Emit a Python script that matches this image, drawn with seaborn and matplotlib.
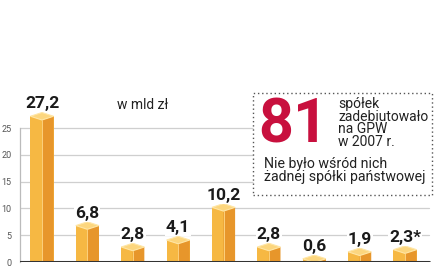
import matplotlib
matplotlib.use("Agg")
import matplotlib.pyplot as plt
import seaborn as sns
import pandas as pd
import numpy as np
from matplotlib.patches import Polygon, FancyBboxPatch

categories = ["1", "2", "3", "4", "5", "6", "7", "8", "9"]
values = [27.2, 6.8, 2.8, 4.1, 10.2, 2.8, 0.6, 1.9, 2.3]
labels = ["27,2", "6,8", "2,8", "4,1", "10,2", "2,8", "0,6", "1,9", "2,3*"]
yticks = [0, 5, 10, 15, 20, 25]

sns.set_theme(style="white")
plt.rcParams['font.family'] = ['Roboto', 'DejaVu Sans']

W, H = 439, 268
fig = plt.figure(figsize=(W / 100, H / 100), dpi=100)
ax = fig.add_axes([20 / W, 6 / H, 415 / W, 172 / H])

df = pd.DataFrame({"cat": categories, "val": values})
LEFT = "#F6B843"
RIGHT = "#E7962B"
TOP = "#FCD67E"
sns.barplot(data=df, x="cat", y="val", color=LEFT, saturation=1, width=0.51,
            ax=ax, zorder=3, linewidth=0)

ax.set_ylim(0, 32.1)
ax.set_xlim(-0.485, 8.66)
d = 0.7
for p, v, lab in zip(ax.patches, values, labels):
    x0 = p.get_x()
    w = p.get_width()
    xc = x0 + w / 2
    x1 = x0 + w
    ax.add_patch(Polygon([[xc, 0], [x1, 0], [x1, v], [xc, v - d]], closed=True,
                         facecolor=RIGHT, edgecolor="none", zorder=4))
    ax.add_patch(Polygon([[x0, v], [xc, v - d], [x1, v], [xc, v + d]], closed=True,
                         facecolor=TOP, edgecolor="#FFE6A6", linewidth=0.8, zorder=5))
    ax.plot([xc, xc], [0, v - d], color="#FFD98A", lw=0.6, zorder=5)
    ax.text(xc, v + 2.3, lab, ha="center", va="center", fontsize=12.5,
            fontweight="bold", color="#1a1a1a", zorder=6,
            bbox=dict(facecolor="white", edgecolor="none", pad=0.8))

ax.set_yticks(yticks)
ax.set_yticklabels([str(t) for t in yticks], fontsize=6.5, color="#555555")
ax.tick_params(axis="y", length=0, pad=6)
ax.set_xticks([])
ax.set_xlabel("")
ax.set_ylabel("")
for t in yticks[1:]:
    ax.axhline(t, color="#cfcfcf", lw=0.9, zorder=1, xmax=0.985)
for s in ["top", "right"]:
    ax.spines[s].set_visible(False)
ax.spines["left"].set_color("#bbbbbb")
ax.spines["left"].set_linewidth(0.9)
ax.spines["left"].set_bounds(0, 25)
ax.spines["bottom"].set_visible(False)
ax.axhline(0, color="#333333", lw=2.2, zorder=7, xmax=0.985)

fig.text(143 / W, 1 - 105 / H, "w mld zł", fontsize=10, color="#222222",
         ha="center", va="center")

# info box
box = FancyBboxPatch((253 / W, 1 - 195 / H), (432 - 253) / W, (195 - 93) / H,
                     boxstyle="square,pad=0", transform=fig.transFigure,
                     facecolor="white", edgecolor="#555555", linewidth=1.0,
                     linestyle=(0, (1, 2)), zorder=10)
fig.patches.append(box)
fig.text(293 / W, 1 - 125 / H, "81", fontsize=44, color="#C8103E",
         fontweight="bold", ha="center", va="center", zorder=11)
fig.text(338 / W, 1 - 97 / H, "spółek\nzadebiutowało\nna GPW\nw 2007 r.",
         fontsize=10, color="#222222", ha="left", va="top",
         linespacing=0.88, zorder=11)
fig.text(264 / W, 1 - 157 / H, "Nie było wśród nich\nżadnej spółki państwowej",
         fontsize=10.2, color="#222222", ha="left", va="top",
         linespacing=0.95, zorder=11)

fig.savefig("out.png", dpi=100)
